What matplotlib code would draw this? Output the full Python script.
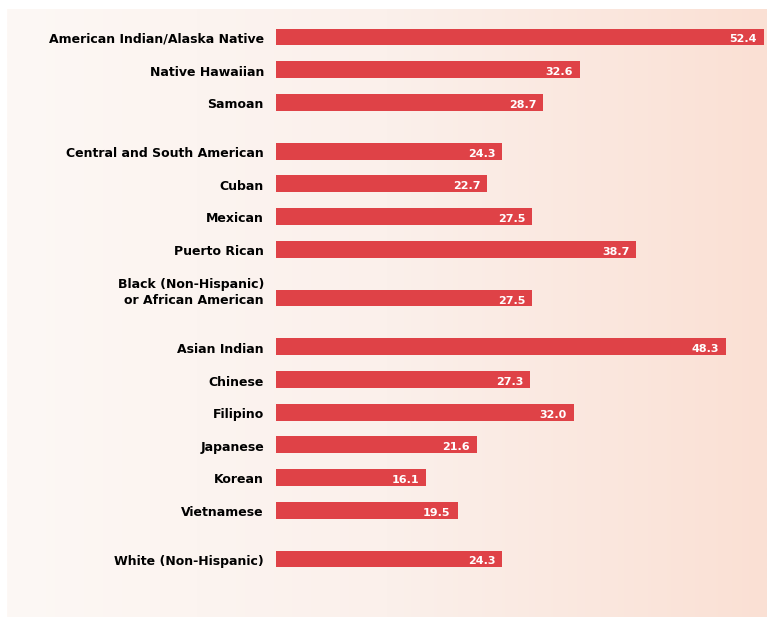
import numpy as np
import matplotlib
matplotlib.use('Agg')
import matplotlib.pyplot as plt
from matplotlib.colors import LinearSegmentedColormap

BAR_RED = '#df4247'

groups = ['American Indian/Alaska Native', 'Native Hawaiian', 'Samoan',
          'Central and South American', 'Cuban', 'Mexican', 'Puerto Rican',
          'Black (Non-Hispanic)\nor African American',
          'Asian Indian', 'Chinese', 'Filipino', 'Japanese', 'Korean', 'Vietnamese',
          'White (Non-Hispanic)']
values = [52.4, 32.6, 28.7, 24.3, 22.7, 27.5, 38.7, 27.5,
          48.3, 27.3, 32.0, 21.6, 16.1, 19.5, 24.3]
# row positions, with half-row gaps between blocks
rows = [0, 1, 2, 3.5, 4.5, 5.5, 6.5, 8, 9.5, 10.5, 11.5, 12.5, 13.5, 14.5, 16]

plt.rcParams['font.family'] = ['DejaVu Sans']

W, H = 767, 617
fig = plt.figure(figsize=(W / 100, H / 100), dpi=100)
fig.patch.set_facecolor('white')

# ── background panel with horizontal gradient ───────────────────────────────
bg = fig.add_axes([7 / W, 0, (W - 7) / W, (H - 9) / H])
cmap = LinearSegmentedColormap.from_list('bg', ['#fdf8f5', '#fbf0eb', '#fae0d4'])
bg.imshow(np.linspace(0, 1, 256)[None, :], aspect='auto', cmap=cmap,
          extent=[0, 1, 0, 1])
bg.set_axis_off()

# ── bars ────────────────────────────────────────────────────────────────────
px_per_unit = (764 - 276) / 52.4
step = 32.625
ax = fig.add_axes([276 / W, 0, (W - 276) / W, (H - 9) / H])
ax.set_facecolor('none')
ax.barh(rows, values, height=0.52, color=BAR_RED)
ax.set_xlim(0, (W - 276) / px_per_unit)
ax.set_ylim((H - 37) / step, -(37 - 9) / step)
ax.set_axis_off()

PT = 0.72  # points per pixel at 100 dpi
for r, v, g in zip(rows, values, groups):
    ax.annotate(f'{v:.1f}', xy=(v, r), xytext=(-7 * PT, -5.5 * PT),
                textcoords='offset points', ha='right', va='baseline',
                color='white', fontsize=8, fontweight='bold')
    lines = g.split('\n')
    n = len(lines)
    for i, line in enumerate(lines):
        dy = -6 + (n - 1 - i) * 16
        ax.annotate(line, xy=(0, r), xytext=(-12 * PT, dy * PT),
                    textcoords='offset points', ha='right', va='baseline',
                    fontsize=9, fontweight='bold')

plt.savefig('out.png', dpi=100)
plt.close()
